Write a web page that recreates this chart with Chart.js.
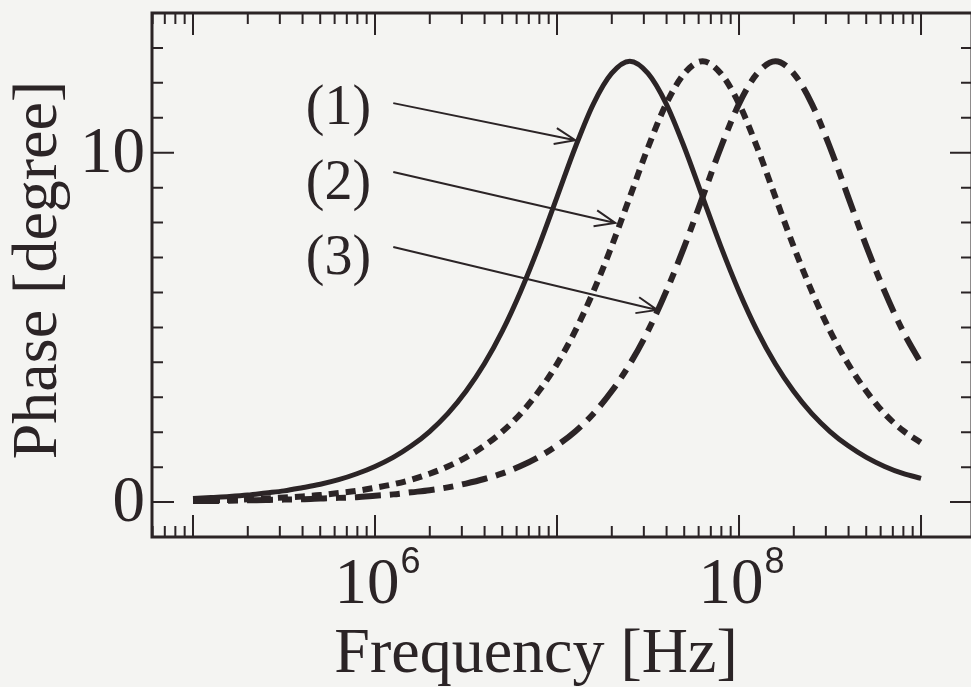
<!DOCTYPE html>
<html>
<head>
<meta charset="utf-8">
<title>Phase vs Frequency</title>
<script src="https://cdn.jsdelivr.net/npm/chart.js@4.4.0/dist/chart.umd.min.js"></script>
<style>
  html, body { margin: 0; padding: 0; background: #f4f4f2; overflow: hidden; }
</style>
</head>
<body>
<canvas id="phaseChart" width="990" height="687"></canvas>
<script>
// log10 of frequency [Hz] for each sample
const logFreq = [5.0, 5.1, 5.2, 5.3, 5.4, 5.5, 5.6, 5.7, 5.8, 5.9,
                 6.0, 6.1, 6.2, 6.3, 6.4, 6.5, 6.6, 6.7, 6.8, 6.9,
                 7.0, 7.1, 7.2, 7.3, 7.4, 7.5, 7.6, 7.7, 7.8, 7.9,
                 8.0, 8.1, 8.2, 8.3, 8.4, 8.5, 8.6, 8.7, 8.8, 8.9, 9.0];

// phase [degree]
const phase1 = [0.10, 0.13, 0.16, 0.20, 0.26, 0.32, 0.41, 0.51, 0.64, 0.81,
                1.02, 1.28, 1.61, 2.02, 2.53, 3.17, 3.95, 4.90, 6.03, 7.32,
                8.73, 10.15, 11.40, 12.27, 12.62, 12.27, 11.40, 10.15, 8.73, 7.32,
                6.03, 4.90, 3.95, 3.17, 2.53, 2.02, 1.61, 1.28, 1.02, 0.82, 0.68];
const phase2 = [0.04, 0.05, 0.06, 0.08, 0.10, 0.13, 0.16, 0.20, 0.26, 0.32,
                0.41, 0.51, 0.64, 0.81, 1.02, 1.28, 1.61, 2.02, 2.53, 3.17,
                3.95, 4.90, 6.03, 7.32, 8.73, 10.15, 11.40, 12.27, 12.62, 12.27,
                11.40, 10.15, 8.73, 7.32, 6.03, 4.90, 3.95, 3.17, 2.53, 2.05, 1.70];
const phase3 = [0.03, 0.03, 0.04, 0.05, 0.06, 0.07, 0.08, 0.10, 0.12, 0.14,
                0.18, 0.22, 0.28, 0.34, 0.42, 0.53, 0.66, 0.82, 1.03, 1.29,
                1.62, 2.02, 2.53, 3.17, 3.95, 4.90, 6.03, 7.32, 8.73, 10.15,
                11.40, 12.27, 12.62, 12.27, 11.40, 10.15, 8.73, 7.32, 6.03, 4.90, 3.97];

const xTickValues = [1e6, 1e8];
const xTickExponents = ['6', '8'];
const yTickValues = [0, 10];
const yTickLabels = ['0', '10'];
const curveNames = ['(1)', '(2)', '(3)'];

const ink = '#2b2426';
const serif = '"Liberation Serif", "Times New Roman", serif';

// where the (n) labels sit and where their arrows point, in data units
const callouts = [
  { text: curveNames[0], at: [6.3e5, 11.25], from: [1.26e6, 11.42], to: [1.26e7, 10.36] },
  { text: curveNames[1], at: [6.3e5, 9.10], from: [1.26e6, 9.45], to: [2.09e7, 7.99] },
  { text: curveNames[2], at: [6.3e5, 6.96], from: [1.26e6, 7.30], to: [3.55e7, 5.50] }
];

function toPoints(values) {
  return values.map((v, i) => ({ x: Math.pow(10, logFreq[i]), y: v }));
}

const framePlugin = {
  id: 'frame',
  afterDraw(chart) {
    const ctx = chart.ctx;
    const a = chart.chartArea;
    const xs = chart.scales.x;
    const ys = chart.scales.y;
    ctx.save();
    ctx.strokeStyle = ink;
    ctx.fillStyle = ink;

    // box
    ctx.lineWidth = 3;
    ctx.strokeRect(a.left, a.top, a.right - a.left, a.bottom - a.top);

    // x ticks, inward on bottom and top
    ctx.lineWidth = 2;
    for (let e = 4; e <= 9; e++) {
      for (let m = 1; m <= 9; m++) {
        const v = m * Math.pow(10, e);
        if (v < xs.min || v > xs.max) continue;
        const px = xs.getPixelForValue(v);
        const len = m === 1 ? 22 : 11;
        ctx.beginPath();
        ctx.moveTo(px, a.bottom); ctx.lineTo(px, a.bottom - len);
        ctx.moveTo(px, a.top); ctx.lineTo(px, a.top + len);
        ctx.stroke();
      }
    }
    // y ticks, inward on left and right
    for (let v = 0; v <= 13; v++) {
      const py = ys.getPixelForValue(v);
      const len = (v % 10 === 0) ? 22 : 11;
      ctx.beginPath();
      ctx.moveTo(a.left, py); ctx.lineTo(a.left + len, py);
      ctx.moveTo(a.right, py); ctx.lineTo(a.right - len, py);
      ctx.stroke();
    }

    // y tick labels
    ctx.font = '65px ' + serif;
    ctx.textAlign = 'right';
    ctx.textBaseline = 'middle';
    yTickValues.forEach((v, i) => {
      ctx.fillText(yTickLabels[i], a.left - 7, ys.getPixelForValue(v) + 2);
    });

    // x tick labels: 10 with superscript exponent
    xTickValues.forEach((v, i) => {
      const px = xs.getPixelForValue(v);
      ctx.font = '65px ' + serif;
      const wBase = ctx.measureText('10').width;
      ctx.font = '36px "Liberation Sans", Arial, sans-serif';
      const wExp = ctx.measureText(xTickExponents[i]).width;
      const left = px - (wBase + wExp) / 2 + 2;
      ctx.textAlign = 'left';
      ctx.textBaseline = 'alphabetic';
      ctx.font = '65px ' + serif;
      ctx.fillText('10', left, 603);
      ctx.font = '36px "Liberation Sans", Arial, sans-serif';
      ctx.fillText(xTickExponents[i], left + wBase + 1, 573);
    });

    // axis titles
    ctx.font = '64px ' + serif;
    ctx.textAlign = 'center';
    ctx.textBaseline = 'alphabetic';
    ctx.fillText('Frequency [Hz]', 536, 672);
    ctx.save();
    ctx.translate(56, 270);
    ctx.rotate(-Math.PI / 2);
    ctx.fillText('Phase [degree]', 0, 0);
    ctx.restore();

    // callouts with arrows
    ctx.font = '56px ' + serif;
    ctx.textAlign = 'center';
    ctx.textBaseline = 'middle';
    ctx.lineWidth = 2;
    callouts.forEach(c => {
      ctx.fillText(c.text, xs.getPixelForValue(c.at[0]), ys.getPixelForValue(c.at[1]));
      const x0 = xs.getPixelForValue(c.from[0]), y0 = ys.getPixelForValue(c.from[1]);
      const x1 = xs.getPixelForValue(c.to[0]), y1 = ys.getPixelForValue(c.to[1]);
      const ang = Math.atan2(y1 - y0, x1 - x0);
      const head = 22, spread = 0.38;
      ctx.beginPath();
      ctx.moveTo(x0, y0); ctx.lineTo(x1, y1);
      ctx.moveTo(x1 - head * Math.cos(ang - spread), y1 - head * Math.sin(ang - spread));
      ctx.lineTo(x1, y1);
      ctx.lineTo(x1 - head * Math.cos(ang + spread), y1 - head * Math.sin(ang + spread));
      ctx.stroke();
    });
    ctx.restore();
  }
};

const bgPlugin = {
  id: 'bg',
  beforeDraw(chart) {
    const ctx = chart.ctx;
    ctx.save();
    ctx.fillStyle = '#f4f4f2';
    ctx.fillRect(0, 0, chart.width, chart.height);
    ctx.restore();
  }
};

const lineStyle = {
  borderColor: ink,
  pointRadius: 0,
  fill: false,
  cubicInterpolationMode: 'monotone',
  borderCapStyle: 'butt'
};

new Chart(document.getElementById('phaseChart').getContext('2d'), {
  type: 'line',
  data: {
    datasets: [
      Object.assign({ label: curveNames[0], data: toPoints(phase1), borderWidth: 5 }, lineStyle),
      Object.assign({ label: curveNames[1], data: toPoints(phase2), borderWidth: 6, borderDash: [10, 7] }, lineStyle),
      Object.assign({ label: curveNames[2], data: toPoints(phase3), borderWidth: 6, borderDash: [26, 9, 10, 9] }, lineStyle)
    ]
  },
  options: {
    responsive: false,
    animation: false,
    layout: { padding: { left: 152, top: 13, right: 18, bottom: 150 } },
    plugins: { legend: { display: false }, tooltip: { enabled: false } },
    scales: {
      x: { type: 'logarithmic', min: 59530, max: 1.906e9, display: false },
      y: { type: 'linear', min: -1, max: 14, display: false }
    }
  },
  plugins: [bgPlugin, framePlugin]
});
</script>
</body>
</html>
